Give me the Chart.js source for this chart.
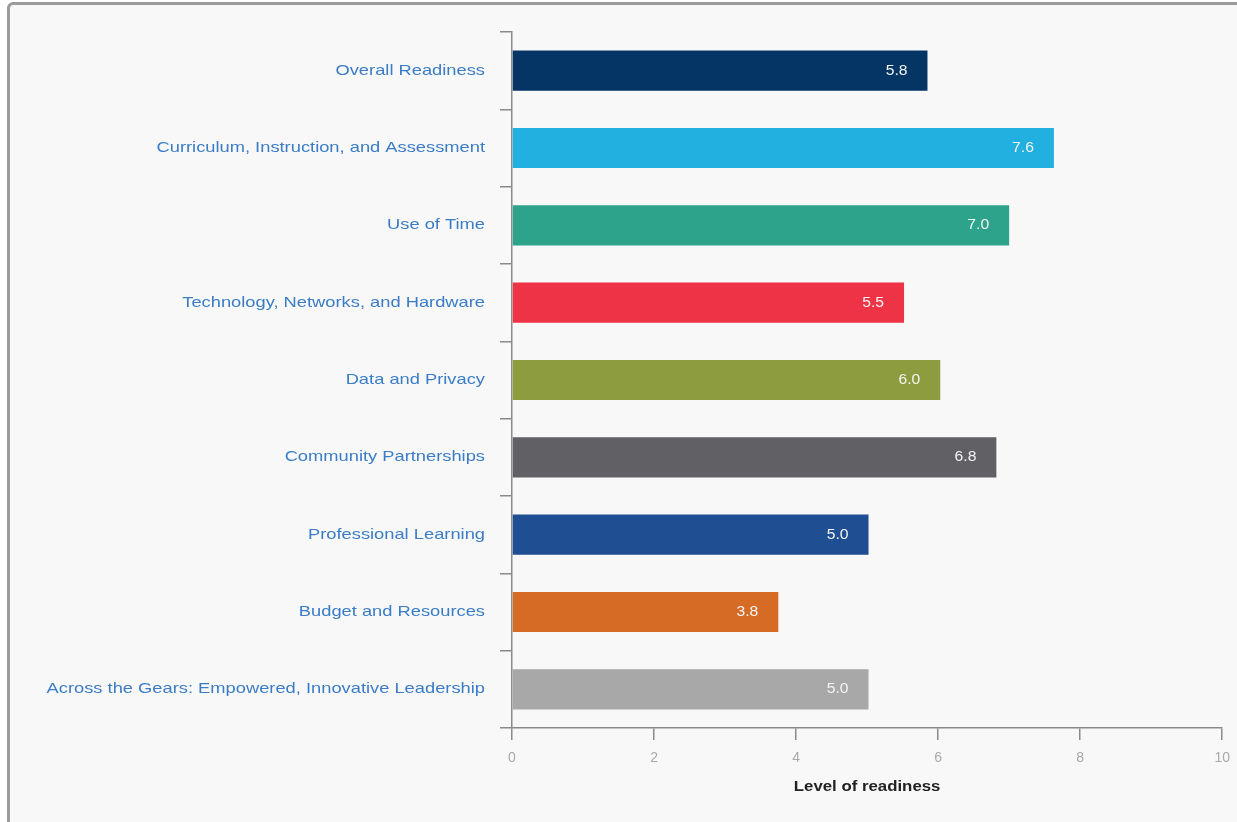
<!DOCTYPE html>
<html>
<head>
<meta charset="utf-8">
<script src="https://cdn.jsdelivr.net/npm/chart.js@4.4.1/dist/chart.umd.min.js"></script>
<style>
  html, body { margin: 0; padding: 0; background: #ffffff; overflow: hidden; }
  #frame { position: absolute; left: 7px; top: 2px; width: 1300px; height: 900px;
           border: 3px solid #9c9c9c; border-radius: 6px; background: #f8f8f8; box-sizing: border-box; }
  #wrap { position: absolute; left: 0; top: 0; width: 1237px; height: 822px; overflow: hidden; }
</style>
</head>
<body>
<div id="frame"></div>
<div id="wrap"><canvas id="c" width="1240" height="822"></canvas></div>
<script>
const categories = [
  "Overall Readiness",
  "Curriculum, Instruction, and Assessment",
  "Use of Time",
  "Technology, Networks, and Hardware",
  "Data and Privacy",
  "Community Partnerships",
  "Professional Learning",
  "Budget and Resources",
  "Across the Gears: Empowered, Innovative Leadership"
];
const readiness = [5.85, 7.63, 7.0, 5.52, 6.03, 6.82, 5.02, 3.75, 5.02];
const valueLabels = ["5.8", "7.6", "7.0", "5.5", "6.0", "6.8", "5.0", "3.8", "5.0"];
const barColors = ["#053565", "#22b0e0", "#2ca38a", "#ef3347", "#8c9c3f", "#616165", "#1f4e92", "#d66b26", "#a8a8a8"];
const xTicks = [0, 2, 4, 6, 8, 10];
const axisTitle = "Level of readiness";

const FONT = '"Liberation Sans", Arial, sans-serif';
const Y_TICK_LEN = 12, Y_PAD = 15;

// draw a function's text stretched horizontally around anchor x
function stretched(fn, getAnchor, sx) {
  if (fn.__stretched) return fn;
  const w = function (...args) {
    const ctx = this.ctx;
    const ax = getAnchor(this);
    ctx.save();
    ctx.translate(ax, 0); ctx.scale(sx, 1); ctx.translate(-ax, 0);
    try { return fn.apply(this, args); } finally { ctx.restore(); }
  };
  w.__stretched = true;
  return w;
}

const stretchPlugin = {
  id: 'stretch',
  beforeDraw(chart) {
    const y = chart.scales.y, x = chart.scales.x;
    y.drawLabels = stretched(y.drawLabels, s => s.right - Y_TICK_LEN - Y_PAD, 1.22);
    x.drawTitle = stretched(x.drawTitle, s => (s.left + s.right) / 2, 1.12);
  }
};

const valueLabelPlugin = {
  id: 'valueLabels',
  afterDatasetsDraw(chart) {
    const ctx = chart.ctx;
    const meta = chart.getDatasetMeta(0);
    ctx.font = '14px ' + FONT;
    ctx.fillStyle = '#f4f4f4';
    ctx.textAlign = 'right';
    ctx.textBaseline = 'middle';
    meta.data.forEach((bar, i) => {
      const ax = bar.x - 20;
      ctx.save();
      ctx.translate(ax, 0); ctx.scale(1.12, 1); ctx.translate(-ax, 0);
      ctx.fillText(valueLabels[i], ax, bar.y);
      ctx.restore();
    });
  }
};

new Chart(document.getElementById('c'), {
  type: 'bar',
  data: {
    labels: categories,
    datasets: [{
      data: readiness,
      backgroundColor: barColors,
      borderWidth: 0,
      barPercentage: 0.52,
      categoryPercentage: 1.0
    }]
  },
  options: {
    indexAxis: 'y',
    responsive: false,
    animation: false,
    layout: { padding: { top: 32, right: 12, left: 0, bottom: 0 } },
    plugins: { legend: { display: false }, tooltip: { enabled: false } },
    scales: {
      y: {
        grid: { drawOnChartArea: false, tickLength: Y_TICK_LEN, color: '#8a8a8a', lineWidth: 1.5 },
        border: { color: '#8a8a8a', width: 1.5 },
        ticks: { color: '#3a7cc6', padding: Y_PAD, font: { family: FONT, size: 15 } },
        afterFit(scale) { scale.width = 512; }
      },
      x: {
        min: 0, max: 10,
        afterBuildTicks(scale) { scale.ticks = xTicks.map(v => ({ value: v })); },
        grid: { drawOnChartArea: false, tickLength: 12, color: '#8a8a8a', lineWidth: 1.5 },
        border: { color: '#8a8a8a', width: 1.5 },
        ticks: { color: '#a9a9a9', padding: 10, font: { family: FONT, size: 14 } },
        title: { display: true, text: axisTitle, color: '#222222', padding: { top: 0, bottom: 26 },
                 font: { family: FONT, size: 15, weight: 'bold' } },
        afterFit(scale) { scale.height = 94; }
      }
    }
  },
  plugins: [stretchPlugin, valueLabelPlugin]
});
</script>
</body>
</html>
